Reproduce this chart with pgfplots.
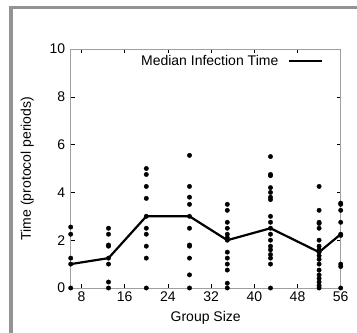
\documentclass[border=0pt]{standalone}
\usepackage{pgfplots}
\pgfplotsset{compat=1.18}
\usepackage{fontspec}
\setmainfont{Liberation Sans}
\begin{document}
\begin{tikzpicture}[font=\fontsize{14bp}{16bp}\selectfont]
\path[use as bounding box] (-70.7bp,-45bp) rectangle (286.3bp,288bp);
\fill[gray!85] (-61.4bp,-45bp) rectangle (-58bp,282bp);
\fill[gray!85] (-61.4bp,278.7bp) rectangle (286.3bp,282bp);
\begin{axis}[
  at={(0,0)}, anchor=south west,
  scale only axis, width=270bp, height=239bp,
  xmin=6, xmax=56, ymin=0, ymax=10,
  xtick={8,16,...,56}, ytick={0,2,...,10},
  tick align=inside, major tick length=4bp,
  axis line style={gray!75, line width=0.6bp},
  tick style={black, line width=0.5bp},
  /pgf/number format/assume math mode=true,
  tick label style={font=\fontsize{14bp}{16bp}\selectfont},
  yticklabel style={xshift=-2bp},
  label style={font=\fontsize{14bp}{16bp}\selectfont},
  xlabel={Group Size}, ylabel={Time (protocol periods)},
  xlabel style={yshift=-3bp},
  ylabel style={yshift=9bp},
  clip=false,
  legend style={at={(1,1)}, anchor=north east, draw=none, fill=none, xshift=-14bp, yshift=-2bp, column sep=8bp, font=\fontsize{14bp}{16bp}\selectfont},
  legend cell align=right,
  legend plot pos=right,
  legend image code/.code={\draw[#1] (0bp,0bp) -- (33bp,0bp);},
]
\addplot[only marks, mark=*, mark size=2.2bp, black, forget plot] table {
x y
6 0
6 1.0
6 1.25
6 2.25
6 2.55
13 0
13 0.25
13 1.0
13 1.25
13 1.75
13 1.8
13 2.25
13 2.5
20 0
20 1.25
20 1.75
20 2.25
20 2.5
20 3.0
20 3.75
20 4.25
20 4.75
20 5.0
28 0
28 0.55
28 1.25
28 1.75
28 1.8
28 2.5
28 3.0
28 3.5
28 3.8
28 4.25
28 5.55
35 0
35 0.2
35 0.75
35 1.0
35 1.25
35 1.5
35 2.0
35 2.1
35 2.25
35 2.5
35 2.75
35 3.25
35 3.5
43 0
43 1.0
43 1.25
43 1.4
43 1.6
43 1.75
43 2.0
43 2.25
43 2.5
43 2.75
43 3.0
43 3.7
43 3.8
43 4.0
43 4.2
43 4.7
43 4.75
43 5.5
52 0
52 0.1
52 0.25
52 0.4
52 0.55
52 0.75
52 1.0
52 1.2
52 1.35
52 1.5
52 1.6
52 1.75
52 2.0
52 2.5
52 2.7
52 2.75
52 3.25
52 4.25
56 0
56 0.9
56 1.0
56 2.2
56 2.25
56 2.75
56 3.25
56 3.5
56 3.55
};
\addplot[black, line width=2.2bp] coordinates {
(6,1.0) (13,1.25) (20,3) (28,3) (35,2) (43,2.5) (52,1.5) (56,2.25)
};
\addlegendentry{Median Infection Time}
\end{axis}
\end{tikzpicture}
\end{document}
